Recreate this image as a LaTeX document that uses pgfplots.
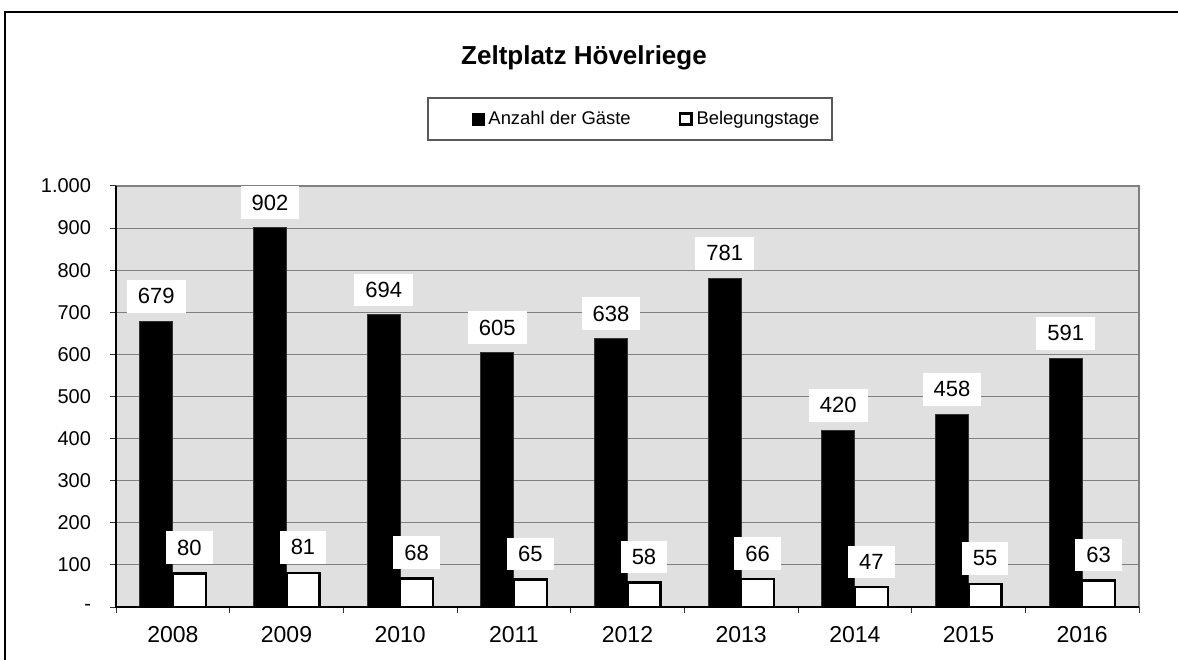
\documentclass[border=0pt]{standalone}
\usepackage{fontspec}
\setmainfont{Liberation Sans}
\usepackage{pgfplots}
\pgfplotsset{compat=1.18}
\definecolor{plotbg}{RGB}{224,224,224}
\definecolor{gridc}{RGB}{128,128,128}
\begin{document}
\begin{tikzpicture}[x=1pt,y=1pt]
\useasboundingbox (0,0) rectangle (589,329.5);
\draw[line width=1.4pt] (2.5,-5) -- (2.5,323.5) -- (595,323.5);
\node[font=\bfseries\fontsize{13}{15}\selectfont] at (292,300.8) {Zeltplatz Hövelriege};
\draw[black!65, line width=0.6pt, fill=white] (214,259.5) rectangle (416,280.5);
\begin{axis}[
  at={(58pt,26pt)}, anchor=south west,
  width=511.5pt, height=210.5pt, scale only axis,
  xmin=-0.5, xmax=8.5, ymin=0, ymax=1000,
  ybar=0pt, bar width=16.5pt,
  clip=false,
  axis background/.style={fill=plotbg},
  axis line style={draw=none},
  xtick pos=bottom, ytick pos=left,
  ytick={0,100,...,1000},
  yticklabels={-,100,200,300,400,500,600,700,800,900,1.000},
  xtick={0,...,8},
  xticklabels={2008,2009,2010,2011,2012,2013,2014,2015,2016},
  minor xtick={-0.5,0.5,...,8.5},
  major x tick style={draw=none},
  tick align=outside,
  major tick length=3pt, minor tick length=3pt,
  tick style={black!80, line width=0.5pt},
  ymajorgrids=true,
  major grid style={gridc, line width=0.5pt},
  yticklabel style={font=\fontsize{10}{12}\selectfont, anchor=east, xshift=-6pt},
  xticklabel style={font=\fontsize{11.5}{13}\selectfont, anchor=north, yshift=-3pt},
  /pgf/number format/assume math mode=true,
  legend columns=2,
  legend style={at={(axis description cs:0.5196,1.159)}, anchor=center,
    draw=none, fill=none, font=\fontsize{9.2}{11}\selectfont,
    /tikz/every even column/.append style={column sep=22pt}},
  nodes near coords,
  every node near coord/.append style={fill=white, text=black,
    font=\fontsize{11}{13}\selectfont, inner xsep=5.5pt, inner ysep=4.3pt,
    anchor=south, yshift=4pt},
]
\addplot[fill=black, draw=black!80,
  legend image code/.code={\fill[black] (0pt,-3pt) rectangle (6pt,3pt);}]
  coordinates {(0,679) (1,902) (2,694) (3,605) (4,638) (5,781) (6,420) (7,458) (8,591)};
\addlegendentry{Anzahl der Gäste}
\addplot[fill=white, draw=black, line width=1.2pt,
  legend image code/.code={\draw[black, line width=1.4pt, fill=white] (0.7pt,-2.8pt) rectangle (6.3pt,2.8pt);}]
  coordinates {(0,80) (1,81) (2,68) (3,65) (4,58) (5,66) (6,47) (7,55) (8,63)};
\addlegendentry{Belegungstage}
\draw[gridc, line width=0.6pt] (rel axis cs:0,1) -- (rel axis cs:1,1) -- (rel axis cs:1,0);
\draw[black, line width=0.6pt] (rel axis cs:0,1) -- (rel axis cs:0,0) -- (rel axis cs:1,0);
\end{axis}
\end{tikzpicture}
\end{document}
